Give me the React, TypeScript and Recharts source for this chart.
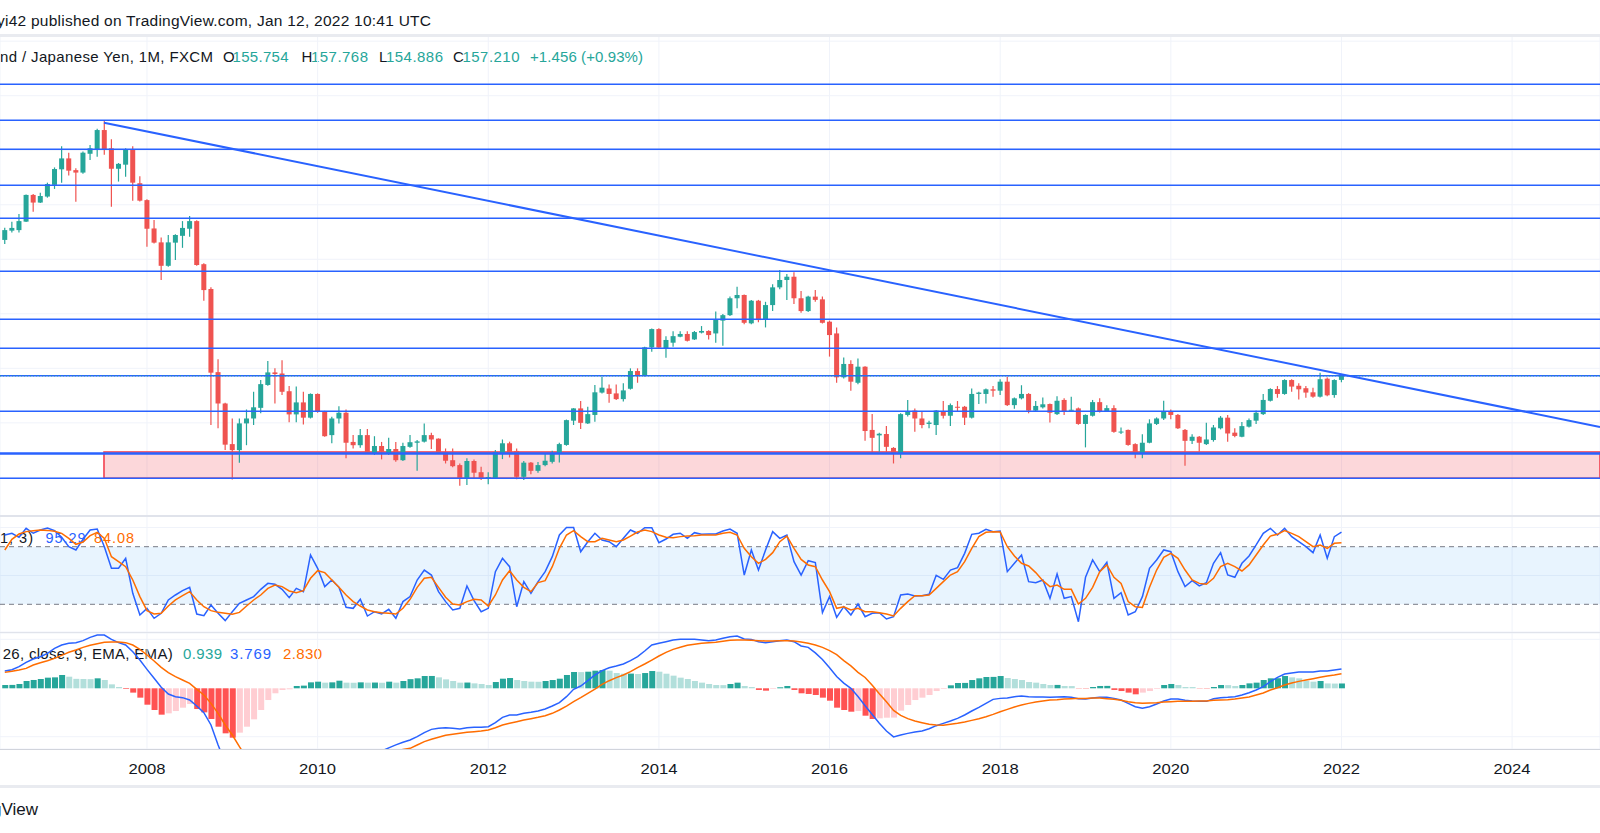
import React from 'react';
import {
  ComposedChart,
  Bar,
  Line,
  XAxis,
  YAxis,
  CartesianGrid,
  ReferenceLine,
  ReferenceArea,
} from 'recharts';

// ---- Monthly GBP/JPY candles, May 2006 .. Jan 2022 (month 0 = Jan 2008) ----
const FIRST_MONTH = -20; // May 2006 relative to Jan 2008

const opens = [
  207.1, 210.5, 210.7, 213.8, 223.6, 220.8, 223.0, 227.3, 233.0, 237.0,
  232.7, 231.8, 238.7, 240.3, 247.4, 240.7, 233.2, 234.7, 240.3, 227.9,
  221.7, 211.3, 206.2, 197.6, 206.1, 208.6, 211.2, 214.0, 198.2, 189.1,
  158.6, 147.1, 132.2, 130.0, 139.8, 141.6, 145.5, 153.9, 158.5, 158.1,
  151.6, 143.1, 147.5, 141.9, 150.6, 144.1, 135.5, 141.6, 143.7, 133.0,
  131.8, 135.5, 129.0, 131.5, 128.8, 130.4, 126.3, 131.2, 132.7, 133.1,
  135.5, 134.2, 129.2, 126.3, 124.5, 119.6, 126.0, 121.9, 119.6, 119.6,
  128.8, 132.5, 129.7, 120.2, 125.4, 122.4, 124.5, 125.7, 128.8, 131.9,
  140.8, 145.3, 139.8, 142.9, 151.1, 152.6, 150.8, 148.7, 152.5, 159.0,
  157.3, 167.7, 174.4, 167.3, 169.4, 171.6, 172.6, 170.6, 173.1, 173.7,
  172.8, 177.5, 179.5, 185.7, 186.9, 176.5, 184.8, 178.0, 183.2, 189.7,
  192.4, 193.6, 185.7, 181.0, 186.3, 185.3, 177.1, 172.8, 156.7, 161.6,
  154.7, 160.6, 137.4, 135.4, 135.9, 130.8, 128.6, 142.9, 144.5, 141.6,
  139.6, 139.2, 144.3, 142.6, 145.9, 145.9, 141.9, 150.6, 150.6, 152.3,
  151.8, 155.1, 146.5, 149.0, 150.6, 144.5, 145.7, 146.9, 143.2, 148.4,
  144.7, 145.3, 139.6, 142.6, 147.6, 144.3, 145.4, 136.7, 137.4, 132.2,
  128.6, 132.7, 139.6, 141.6, 144.3, 142.9, 137.4, 133.4, 134.9, 132.2,
  133.7, 138.0, 141.9, 136.4, 134.9, 138.6, 140.8, 143.2, 148.1, 152.4,
  150.6, 155.7, 153.6, 152.7, 151.2, 149.6, 156.2, 150.2, 155.754,
];

const highs = [
  211.6, 213.8, 216.6, 223.8, 223.9, 224.4, 228.1, 233.7, 241.5, 239.1,
  233.4, 239.5, 241.9, 247.9, 251.1, 244.0, 235.3, 240.7, 241.5, 230.5,
  222.0, 214.4, 208.0, 208.9, 209.2, 214.0, 215.9, 214.3, 198.5, 189.7,
  163.3, 147.4, 141.6, 141.6, 144.9, 151.4, 155.7, 162.7, 160.0, 163.0,
  153.5, 153.3, 151.4, 150.8, 150.8, 144.4, 142.2, 146.1, 144.9, 135.5,
  137.7, 137.7, 135.1, 133.0, 134.5, 133.0, 132.7, 135.5, 133.7, 139.8,
  136.4, 134.3, 130.6, 130.6, 125.1, 127.0, 126.6, 123.9, 121.9, 130.0,
  133.9, 133.1, 130.6, 126.0, 125.6, 125.6, 128.6, 129.8, 132.7, 141.2,
  145.4, 148.0, 145.9, 153.9, 156.9, 154.1, 154.1, 154.5, 160.0, 160.0,
  167.9, 174.6, 174.7, 171.8, 173.6, 173.6, 173.6, 173.7, 175.5, 174.0,
  180.8, 179.9, 186.3, 189.9, 187.1, 185.1, 185.1, 184.4, 190.8, 196.1,
  194.6, 195.2, 188.4, 186.6, 188.7, 186.3, 177.5, 175.0, 164.0, 163.0,
  163.6, 160.8, 143.2, 136.4, 138.8, 131.1, 143.5, 148.4, 145.3, 144.1,
  140.8, 144.7, 148.0, 147.1, 148.0, 146.2, 152.6, 151.4, 152.6, 153.5,
  156.0, 156.9, 149.3, 153.8, 150.9, 148.0, 149.3, 147.1, 149.8, 149.0,
  149.6, 145.6, 143.1, 148.4, 149.0, 146.5, 146.5, 138.3, 137.6, 132.5,
  135.8, 141.3, 142.0, 148.1, 144.9, 143.2, 137.7, 135.8, 135.2, 140.0,
  139.2, 142.5, 142.9, 138.0, 140.3, 141.6, 144.5, 150.6, 152.7, 153.5,
  156.0, 156.0, 154.5, 153.5, 152.9, 158.4, 156.6, 156.0, 157.768,
];

const lows = [
  205.6, 209.8, 209.8, 213.7, 217.4, 220.6, 222.6, 225.8, 228.1, 230.7,
  221.1, 231.4, 236.4, 237.6, 238.3, 219.3, 228.5, 230.3, 221.5, 221.2,
  204.6, 205.8, 192.4, 197.3, 199.7, 204.2, 208.3, 197.6, 184.8, 139.2,
  138.0, 130.0, 119.2, 125.4, 131.8, 139.2, 143.5, 153.6, 147.1, 150.2,
  140.2, 140.2, 139.4, 141.6, 143.7, 134.9, 132.5, 139.8, 127.0, 130.6,
  130.9, 128.8, 128.2, 126.6, 128.2, 125.7, 126.0, 130.9, 122.4, 132.8,
  130.4, 128.6, 125.1, 123.7, 116.9, 117.2, 119.6, 119.0, 117.5, 119.4,
  126.7, 127.3, 119.3, 119.0, 121.1, 121.7, 124.1, 125.1, 125.5, 131.6,
  139.2, 137.7, 139.6, 140.4, 150.8, 147.4, 148.4, 147.8, 152.2, 154.7,
  157.0, 166.1, 167.3, 163.9, 167.9, 171.4, 169.8, 170.4, 172.8, 170.6,
  169.4, 168.3, 179.2, 182.0, 176.2, 176.2, 176.9, 175.0, 181.0, 189.0,
  185.1, 183.6, 180.4, 180.7, 184.4, 176.4, 164.3, 154.7, 156.3, 151.8,
  154.2, 133.4, 129.0, 129.4, 129.1, 125.1, 127.0, 142.3, 136.7, 138.0,
  138.0, 135.5, 141.6, 138.8, 144.1, 139.2, 141.6, 146.9, 147.1, 149.6,
  150.2, 146.2, 145.2, 148.6, 143.5, 144.1, 145.3, 140.1, 142.9, 142.9,
  144.5, 139.3, 131.0, 142.3, 143.8, 144.1, 136.4, 135.9, 131.6, 127.0,
  127.0, 132.5, 139.2, 141.0, 141.3, 137.7, 124.3, 132.2, 129.4, 131.9,
  133.1, 137.6, 133.1, 134.7, 134.7, 138.3, 139.6, 142.9, 147.8, 149.2,
  150.3, 151.4, 148.6, 149.2, 149.2, 149.3, 149.8, 149.2, 154.886,
];

const closes = [
  210.7, 211.5, 214.0, 223.6, 220.8, 223.2, 227.6, 233.1, 237.0, 232.5,
  231.8, 239.1, 240.7, 247.4, 240.3, 233.2, 235.0, 240.3, 228.1, 221.5,
  211.2, 206.1, 197.6, 206.2, 208.9, 211.5, 214.0, 197.9, 188.7, 158.4,
  147.1, 132.0, 130.0, 139.8, 141.6, 145.7, 154.2, 158.5, 157.9, 151.4,
  143.1, 147.5, 141.9, 150.6, 144.1, 135.1, 141.6, 143.7, 132.7, 131.8,
  135.5, 129.0, 131.5, 129.4, 130.4, 126.3, 131.5, 132.9, 133.2, 135.5,
  133.9, 129.0, 126.1, 124.1, 119.6, 126.0, 121.7, 119.6, 120.1, 129.3,
  132.5, 129.0, 120.2, 125.4, 122.4, 124.5, 126.1, 128.8, 132.2, 141.0,
  145.3, 140.0, 143.2, 151.2, 152.9, 150.6, 148.7, 151.9, 159.0, 157.5,
  167.7, 174.4, 167.6, 170.4, 171.8, 172.6, 170.1, 173.3, 173.7, 172.2,
  178.0, 179.5, 185.7, 186.9, 176.7, 184.8, 177.7, 183.2, 189.7, 192.4,
  193.6, 185.7, 181.0, 186.3, 185.1, 176.7, 172.2, 156.7, 161.6, 155.1,
  160.6, 137.0, 134.5, 136.0, 131.2, 128.6, 143.2, 144.1, 141.6, 139.2,
  140.1, 144.5, 142.6, 146.5, 145.7, 141.9, 150.6, 151.1, 152.3, 151.8,
  155.1, 146.5, 149.0, 150.6, 144.5, 146.2, 146.8, 143.7, 148.1, 144.1,
  144.8, 139.6, 142.9, 147.6, 144.1, 145.4, 136.7, 136.8, 131.9, 128.8,
  132.7, 139.8, 141.6, 144.1, 142.9, 138.0, 133.4, 134.9, 132.7, 133.9,
  138.3, 141.9, 136.1, 135.2, 138.8, 141.0, 143.7, 148.4, 152.4, 150.6,
  155.7, 153.3, 152.3, 151.1, 149.6, 156.0, 150.1, 155.7, 157.21,
];

// ---- Stochastic RSI ----
const stochK = [
  92.2, 94.0, 89.8, 99.1, 94.0, 97.4, 99.5, 96.7, 89.8, 80.0,
  76.6, 87.7, 97.4, 98.4, 80.0, 57.5, 57.5, 67.9, 31.4, 8.9,
  15.8, 5.4, 10.6, 24.5, 29.7, 34.2, 37.7, 9.9, 8.2, 19.3,
  10.6, 3.0, 12.3, 21.0, 24.5, 28.0, 35.6, 41.8, 40.8, 35.6,
  26.9, 36.6, 33.2, 71.4, 57.5, 38.4, 45.3, 37.7, 16.9, 15.8,
  25.2, 7.8, 12.3, 9.9, 14.8, 5.4, 22.8, 28.0, 45.3, 55.7,
  50.5, 33.2, 22.8, 14.1, 15.8, 39.1, 23.8, 12.3, 15.8, 54.0,
  67.9, 59.2, 17.5, 43.6, 31.4, 43.6, 54.0, 69.6, 92.2, 100,
  100, 74.8, 85.2, 94.0, 87.0, 85.2, 80.0, 88.7, 97.4, 94.0,
  99.8, 99.8, 84.2, 88.0, 92.9, 94.0, 88.7, 94.6, 92.9, 93.2,
  93.2, 96.4, 98.4, 94.0, 50.5, 76.6, 55.7, 76.6, 95.7, 88.7,
  92.2, 64.4, 50.5, 65.4, 63.4, 11.3, 28.0, 6.4, 17.5, 8.9,
  20.3, 7.1, 10.6, 11.3, 4.7, 7.1, 29.7, 30.7, 28.7, 29.0,
  30.4, 50.2, 46.0, 55.7, 58.2, 73.1, 92.9, 94.0, 98.1, 95.7,
  96.4, 54.0, 62.7, 71.4, 43.6, 42.5, 45.3, 26.2, 51.6, 26.2,
  28.0, 1.9, 48.1, 66.2, 54.0, 63.7, 26.2, 32.1, 8.9, 12.3,
  28.0, 57.5, 66.2, 76.6, 74.8, 54.0, 38.4, 44.6, 39.1, 42.5,
  62.7, 73.8, 50.5, 48.1, 62.7, 70.3, 81.8, 94.0, 99.1, 92.2,
  99.1, 90.5, 85.2, 80.0, 73.8, 92.2, 67.9, 90.5, 95.29,
];

const stochD = [
  76.6, 87.7, 93.2, 95.7, 96.7, 97.4, 97.0, 96.0, 93.9, 88.7,
  82.5, 84.9, 91.5, 95.0, 88.7, 69.6, 64.4, 59.2, 45.3, 28.0,
  13.4, 9.9, 10.6, 18.2, 24.5, 29.0, 33.2, 24.5, 17.5, 13.4,
  11.6, 10.6, 9.6, 11.6, 18.2, 24.5, 29.7, 36.6, 40.1, 38.4,
  33.9, 32.1, 34.2, 47.1, 55.0, 53.0, 45.3, 37.7, 29.7, 22.8,
  18.2, 14.1, 12.3, 11.3, 10.6, 9.9, 15.8, 25.2, 37.7, 47.1,
  48.1, 37.7, 27.3, 20.3, 19.3, 22.8, 25.2, 24.5, 18.2, 29.7,
  45.3, 55.0, 45.3, 37.7, 33.2, 42.6, 44.6, 59.2, 78.3, 92.2,
  96.7, 90.5, 85.2, 85.2, 88.7, 87.0, 85.2, 87.0, 91.1, 95.3,
  97.4, 95.7, 92.2, 89.8, 89.4, 90.5, 91.1, 91.5, 92.2, 92.2,
  92.2, 93.9, 95.0, 92.2, 78.3, 69.6, 62.7, 66.8, 73.8, 85.2,
  91.1, 78.3, 66.8, 61.0, 59.2, 45.3, 33.2, 15.8, 17.5, 14.1,
  15.8, 12.3, 12.3, 11.3, 9.9, 7.8, 15.8, 22.8, 29.0, 29.0,
  29.7, 36.6, 43.6, 50.5, 54.0, 64.4, 78.3, 90.5, 95.0, 95.7,
  95.3, 80.0, 70.3, 62.7, 59.9, 53.0, 44.6, 38.4, 40.1, 35.6,
  35.6, 20.3, 26.2, 37.7, 54.0, 61.0, 48.1, 41.8, 22.8, 17.5,
  16.8, 37.7, 55.7, 68.9, 73.1, 67.9, 55.7, 45.3, 41.8, 40.8,
  47.1, 59.2, 62.7, 59.2, 54.7, 61.0, 71.4, 81.8, 91.1, 92.9,
  96.7, 93.9, 90.5, 85.2, 80.0, 81.8, 78.3, 83.5, 84.08,
];

// ---- MACD (12, 26, close, 9) ----
const macdLine = [
  3.36, 3.62, 4.21, 5.05, 5.7, 6.15, 6.8, 7.77, 8.42, 8.75,
  8.88, 9.27, 9.91, 10.37, 10.37, 9.52, 8.88, 8.42, 7.12, 5.5,
  3.69, 1.94, 0.19, -1.11, -1.63, -1.82, -2.28, -3.45, -4.74, -7.14,
  -11.03, -14.5, -17.0, -18.5, -19.5, -19.8, -19.5, -19.0, -18.5, -18.0,
  -17.3, -16.7, -16.2, -15.6, -15.0, -14.6, -14.1, -13.6, -13.3, -13.0,
  -12.7, -12.4, -12.3, -12.2, -11.6, -11.0, -10.5, -10.06, -9.41, -8.63,
  -7.99, -7.79, -7.66, -7.79, -7.92, -7.66, -7.6, -7.6, -7.47, -6.69,
  -5.65, -5.2, -5.2, -4.87, -4.68, -4.42, -4.03, -3.45, -2.8, -1.63,
  -0.2, 0.45, 1.48, 2.59, 3.43, 4.01, 4.34, 4.73, 5.37, 6.15,
  7.25, 8.42, 8.75, 9.07, 9.39, 9.52, 9.52, 9.52, 9.39, 9.27,
  9.39, 9.72, 10.04, 10.17, 9.59, 9.52, 9.07, 8.88, 9.07, 9.27,
  9.39, 9.07, 8.23, 7.97, 6.9, 5.6, 4.0, 2.3, 1.0, 0.0,
  -1.6, -3.4, -5.1, -6.8, -8.3, -9.45, -9.09, -8.77, -8.51, -8.31,
  -7.86, -7.27, -6.82, -6.37, -5.85, -5.2, -4.42, -3.71, -2.93, -2.15,
  -1.96, -1.89, -1.63, -1.5, -1.63, -1.7, -1.7, -1.76, -1.7, -1.63,
  -1.76, -2.02, -2.08, -1.89, -1.76, -1.76, -1.96, -2.28, -2.93, -3.58,
  -3.9, -3.58, -3.06, -2.47, -2.08, -2.08, -2.34, -2.47, -2.54, -2.54,
  -2.02, -1.83, -1.76, -1.63, -1.31, -0.85, -0.33, 0.32, 1.29, 2.13,
  2.78, 2.97, 3.17, 3.17, 3.17, 3.36, 3.36, 3.56, 3.769,
];

const signalLine = [
  3.1, 3.3, 3.56, 3.88, 4.53, 4.98, 5.37, 5.83, 6.41, 7.0,
  7.45, 7.97, 8.36, 8.68, 8.94, 9.01, 9.01, 8.88, 8.42, 7.58,
  6.48, 5.31, 4.08, 3.04, 2.26, 1.61, 0.96, -0.2, -1.31, -2.93,
  -4.87, -7.14, -9.09, -11.36, -13.5, -15.0, -16.0, -16.7, -17.1, -17.3,
  -17.3, -17.2, -16.9, -16.6, -16.2, -15.8, -15.4, -15.0, -14.6, -14.2,
  -13.8, -13.5, -13.2, -12.9, -12.6, -12.3, -11.9, -11.68, -11.03, -10.38,
  -9.93, -9.54, -9.15, -8.96, -8.76, -8.57, -8.44, -8.31, -8.12, -7.66,
  -7.14, -6.82, -6.49, -6.17, -5.91, -5.65, -5.33, -4.87, -4.22, -3.45,
  -2.6, -1.82, -0.98, -0.14, 0.77, 1.48, 2.07, 2.59, 3.23, 4.01,
  4.73, 5.5, 6.28, 7.0, 7.58, 7.97, 8.36, 8.55, 8.75, 8.88,
  8.94, 9.14, 9.33, 9.39, 9.39, 9.33, 9.27, 9.2, 9.2, 9.27,
  9.27, 9.2, 9.01, 8.75, 8.42, 7.97, 7.32, 6.55, 5.4, 4.35,
  3.1, 2.1, 0.6, -1.05, -2.6, -4.3, -5.26, -5.91, -6.37, -6.69,
  -7.01, -7.14, -7.21, -7.01, -6.82, -6.56, -6.24, -5.91, -5.52, -5.07,
  -4.55, -4.1, -3.64, -3.25, -2.93, -2.67, -2.47, -2.28, -2.21, -2.08,
  -2.02, -1.96, -1.96, -1.89, -1.89, -2.02, -2.15, -2.34, -2.6, -2.8,
  -2.93, -2.86, -2.8, -2.67, -2.6, -2.54, -2.54, -2.54, -2.47, -2.47,
  -2.34, -2.28, -2.21, -2.08, -1.89, -1.7, -1.31, -0.92, -0.33, 0.12,
  0.64, 1.03, 1.35, 1.61, 1.87, 2.13, 2.39, 2.59, 2.83,
];

const histogram = [
  0.64, 0.66, 0.84, 1.42, 1.62, 1.81, 2.07, 2.13, 2.59, 2.26,
  1.84, 1.81, 1.78, 1.94, 1.62, 0.77, 0.25, -0.13, -0.84, -1.82,
  -3.19, -4.22, -5.13, -4.87, -4.42, -3.77, -3.06, -4.03, -4.68, -5.97,
  -7.47, -8.76, -9.61, -8.63, -7.47, -6.04, -4.22, -2.28, -0.97, -0.33,
  -0.19, 0.45, 0.52, 1.16, 1.29, 1.1, 1.16, 1.48, 1.1, 1.08,
  1.16, 1.1, 1.12, 1.08, 1.29, 1.1, 1.42, 1.78, 1.94, 2.39,
  2.4, 2.13, 1.74, 1.42, 1.1, 1.12, 0.96, 0.84, 0.64, 1.22,
  1.87, 2.0, 1.61, 1.42, 1.29, 1.27, 1.42, 1.61, 1.87, 2.59,
  3.17, 3.15, 3.23, 3.43, 3.56, 3.43, 2.97, 2.84, 2.86, 2.78,
  2.97, 3.36, 3.23, 2.84, 2.46, 2.07, 1.81, 1.42, 1.1, 0.84,
  0.64, 0.62, 0.84, 1.1, 0.45, 0.25, -0.32, -0.46, -0.13, 0.19,
  0.45, -0.32, -0.97, -1.1, -1.3, -1.82, -2.41, -3.77, -4.22, -4.55,
  -4.42, -5.33, -5.97, -5.84, -5.72, -5.7, -4.35, -3.25, -2.28, -1.82,
  -1.3, -0.53, -0.13, 0.58, 1.03, 1.05, 1.61, 1.94, 2.2, 2.22,
  2.39, 2.0, 1.81, 1.61, 1.22, 1.1, 0.84, 0.64, 0.66, 0.45,
  0.43, -0.05, -0.06, 0.25, 0.45, 0.47, -0.32, -0.53, -0.84, -1.17,
  -0.84, -0.53, -0.13, 0.64, 0.84, 0.64, 0.25, 0.24, -0.05, -0.06,
  0.25, 0.64, 0.62, 0.45, 0.64, 0.96, 1.1, 1.61, 1.94, 1.96,
  2.39, 2.13, 1.94, 1.48, 1.29, 1.42, 0.95, 0.92, 0.939,
];

// ---- Drawn levels on the price pane ----
const horizontalLevels = [264.18, 250.97, 240.34, 227.13, 215.03, 195.59, 177.98, 167.34, 157.3, 144.24, 119.66];
const supportLevel = 128.8;
const zoneTop = 129.3;
const zoneBottom = 119.66;
const zoneStartMonth = -6.05;
const trendStart = { x: -6.05, y: 250.1 };
const trendEnd = { x: 204.36, y: 138.5 };
const lastPrice = 157.21;

// ---- Axis ticks ----
const yearTicks = [0, 24, 48, 72, 96, 120, 144, 168, 192];
const yearLabels = ['2008', '2010', '2012', '2014', '2016', '2018', '2020', '2022', '2024'];
const priceTicks = [120, 140, 160, 180, 200, 220, 240, 260, 280];

// ---- layout constants ----
const X_MIN = -20.675;
const X_MAX = 204.36;
const FONT = "'Liberation Sans', Arial, sans-serif";
const UP = '#26a69a';
const DOWN = '#ef5350';
const BLUE = '#2962ff';
const ORANGE = '#ff6d00';
const GRID = '#f0f3fa';
const TEXT = '#131722';

const histColors = histogram.map((v, i) => {
  const prev = i > 0 ? histogram[i - 1] : -Infinity;
  if (v >= 0) return prev < v ? '#26a69a' : '#b2dfdb';
  return prev < v ? '#ffcdd2' : '#ff5252';
});

const table = opens.map((o, i) => ({
  m: FIRST_MONTH + i,
  o,
  h: highs[i],
  l: lows[i],
  c: closes[i],
  range: [lows[i], highs[i]],
  k: stochK[i],
  d: stochD[i],
  macd: macdLine[i],
  signal: signalLine[i],
  hist: histogram[i],
  histColor: histColors[i],
}));

const Candle = (props: any) => {
  const { x, y, width, height, payload } = props;
  if (x == null || y == null || !payload) return null;
  const top = Math.min(y, y + height);
  const bottom = Math.max(y, y + height);
  const span = payload.h - payload.l;
  const toPx = (v: number) => (span > 0 ? top + ((payload.h - v) / span) * (bottom - top) : top);
  const up = payload.c >= payload.o;
  const color = up ? UP : DOWN;
  const bTop = toPx(Math.max(payload.o, payload.c));
  const bBot = toPx(Math.min(payload.o, payload.c));
  const cx = x + width / 2;
  return (
    <g>
      <line x1={cx} x2={cx} y1={top} y2={bottom} stroke={color} strokeWidth={1.2} />
      <rect x={x} y={bTop} width={width} height={Math.max(1, bBot - bTop)} fill={color} />
    </g>
  );
};

const HistBar = (props: any) => {
  const { x, y, width, height, payload } = props;
  if (x == null || y == null || !payload) return null;
  const top = height < 0 ? y + height : y;
  return <rect x={x} y={top} width={width} height={Math.abs(height)} fill={payload.histColor} />;
};

const YearTick = (props: any) => {
  const { x, y, payload } = props;
  const idx = yearTicks.indexOf(payload.value);
  return (
    <text
      x={x}
      y={y + 25}
      textAnchor="middle"
      fontFamily={FONT}
      fontSize={15}
      fill={TEXT}
      textLength={37}
      lengthAdjust="spacingAndGlyphs"
    >
      {idx >= 0 ? yearLabels[idx] : ''}
    </text>
  );
};

const margin = { top: 0, right: 0, bottom: 0, left: 0 };

const Sep = ({ top, h, color }: { top: number; h: number; color: string }) => (
  <div style={{ position: 'absolute', left: 0, top, width: 1600, height: h, background: color }} />
);

export default function App() {
  return (
    <div style={{ position: 'absolute', left: 0, top: 0, width: 1600, height: 833, background: '#ffffff', overflow: 'hidden' }}>
      {/* texts (behind the series, like the legends in the original) */}
      <svg width={1600} height={833} style={{ position: 'absolute', left: 0, top: 0 }}>
        <text x={-3} y={26} fontFamily={FONT} fontSize={15.5} fill={TEXT} textLength={434}>
          yi42 published on TradingView.com, Jan 12, 2022 10:41 UTC
        </text>
        <g fontFamily={FONT} fontSize={15}>
          <text x={0} y={61.5} fill={TEXT} textLength={213}>nd / Japanese Yen, 1M, FXCM</text>
          <text x={223} y={61.5} fill={TEXT}>O</text>
          <text x={232.5} y={61.5} fill={UP} textLength={56}>155.754</text>
          <text x={301.5} y={61.5} fill={TEXT}>H</text>
          <text x={311} y={61.5} fill={UP} textLength={57}>157.768</text>
          <text x={379} y={61.5} fill={TEXT}>L</text>
          <text x={386} y={61.5} fill={UP} textLength={57}>154.886</text>
          <text x={453} y={61.5} fill={TEXT}>C</text>
          <text x={462.5} y={61.5} fill={UP} textLength={57}>157.210</text>
          <text x={530} y={61.5} fill={UP} textLength={113}>+1.456 (+0.93%)</text>
        </g>
        <g fontFamily={FONT} fontSize={14.5}>
          <text x={0} y={542.5} fill={TEXT} textLength={33}>1, 3)</text>
          <text x={45.5} y={542.5} fill={BLUE} textLength={40}>95.29</text>
          <text x={94} y={542.5} fill={ORANGE} textLength={40}>84.08</text>
        </g>
        <g fontFamily={FONT} fontSize={15}>
          <text x={2.7} y={659} fill={TEXT} textLength={170}>26, close, 9, EMA, EMA)</text>
          <text x={183} y={659} fill={UP} textLength={39}>0.939</text>
          <text x={230} y={659} fill={BLUE} textLength={41}>3.769</text>
          <text x={283} y={659} fill={ORANGE} textLength={39}>2.830</text>
        </g>
        <text x={38} y={815} textAnchor="end" fontFamily={FONT} fontSize={17} fill={TEXT}>
          TradingView
        </text>
      </svg>

      {/* price pane */}
      <div style={{ position: 'absolute', left: 0, top: 36 }}>
        <ComposedChart width={1600} height={480} data={table} margin={margin}>
          <CartesianGrid stroke={GRID} />
          <XAxis dataKey="m" type="number" domain={[X_MIN, X_MAX]} ticks={yearTicks} hide allowDataOverflow />
          <YAxis type="number" domain={[105.83, 281.9]} ticks={priceTicks} hide allowDataOverflow />
          <ReferenceArea
            x1={zoneStartMonth}
            x2={X_MAX}
            y1={zoneBottom}
            y2={zoneTop}
            fill="#f23645"
            fillOpacity={0.2}
            stroke="#f23645"
            strokeWidth={1.5}
          />
          <Bar dataKey="range" barSize={5} shape={Candle} isAnimationActive={false} />
          {horizontalLevels.map((lv) => (
            <ReferenceLine key={lv} y={lv} stroke={BLUE} strokeWidth={1.5} />
          ))}
          <ReferenceLine y={supportLevel} stroke={BLUE} strokeWidth={2.5} />
          <ReferenceLine y={lastPrice} stroke={UP} strokeWidth={1} strokeDasharray="1 2" />
          <ReferenceLine segment={[trendStart, trendEnd]} stroke={BLUE} strokeWidth={2} />
        </ComposedChart>
      </div>

      {/* stochastic RSI pane */}
      <div style={{ position: 'absolute', left: 0, top: 516 }}>
        <ComposedChart width={1600} height={116} data={table} margin={margin}>
          <CartesianGrid stroke={GRID} />
          <XAxis dataKey="m" type="number" domain={[X_MIN, X_MAX]} ticks={yearTicks} hide allowDataOverflow />
          <YAxis type="number" domain={[-8.85, 111.98]} ticks={[0, 50, 100]} hide allowDataOverflow />
          <ReferenceArea y1={20} y2={80} fill="#2196f3" fillOpacity={0.1} stroke="none" />
          <ReferenceLine y={80} stroke="#787b86" strokeDasharray="5 4" />
          <ReferenceLine y={20} stroke="#787b86" strokeDasharray="5 4" />
          <Line dataKey="k" type="linear" stroke={BLUE} strokeWidth={1.5} dot={false} activeDot={false} isAnimationActive={false} />
          <Line dataKey="d" type="linear" stroke={ORANGE} strokeWidth={1.5} dot={false} activeDot={false} isAnimationActive={false} />
        </ComposedChart>
      </div>

      {/* MACD pane + time axis */}
      <div style={{ position: 'absolute', left: 0, top: 633 }}>
        <ComposedChart width={1600} height={152} data={table} margin={margin}>
          <CartesianGrid stroke={GRID} />
          <XAxis
            dataKey="m"
            type="number"
            domain={[X_MIN, X_MAX]}
            ticks={yearTicks}
            interval={0}
            height={36}
            axisLine={false}
            tickLine={false}
            tickSize={0}
            tickMargin={0}
            tick={<YearTick />}
            allowDataOverflow
          />
          <YAxis type="number" domain={[-11.81, 10.76]} ticks={[-9.42, 9.53]} hide allowDataOverflow />
          <Bar dataKey="hist" barSize={6} shape={HistBar} isAnimationActive={false} />
          <Line dataKey="macd" type="linear" stroke={BLUE} strokeWidth={1.5} dot={false} activeDot={false} isAnimationActive={false} />
          <Line dataKey="signal" type="linear" stroke={ORANGE} strokeWidth={1.5} dot={false} activeDot={false} isAnimationActive={false} />
        </ComposedChart>
      </div>

      {/* pane separators */}
      <Sep top={34} h={2.5} color="#e9ebf0" />
      <Sep top={515} h={1.5} color="#e0e3eb" />
      <Sep top={631.5} h={1.5} color="#e0e3eb" />
      <Sep top={749} h={1} color="#d1d4dc" />
      <Sep top={784.5} h={3} color="#e9ebf0" />
    </div>
  );
}
